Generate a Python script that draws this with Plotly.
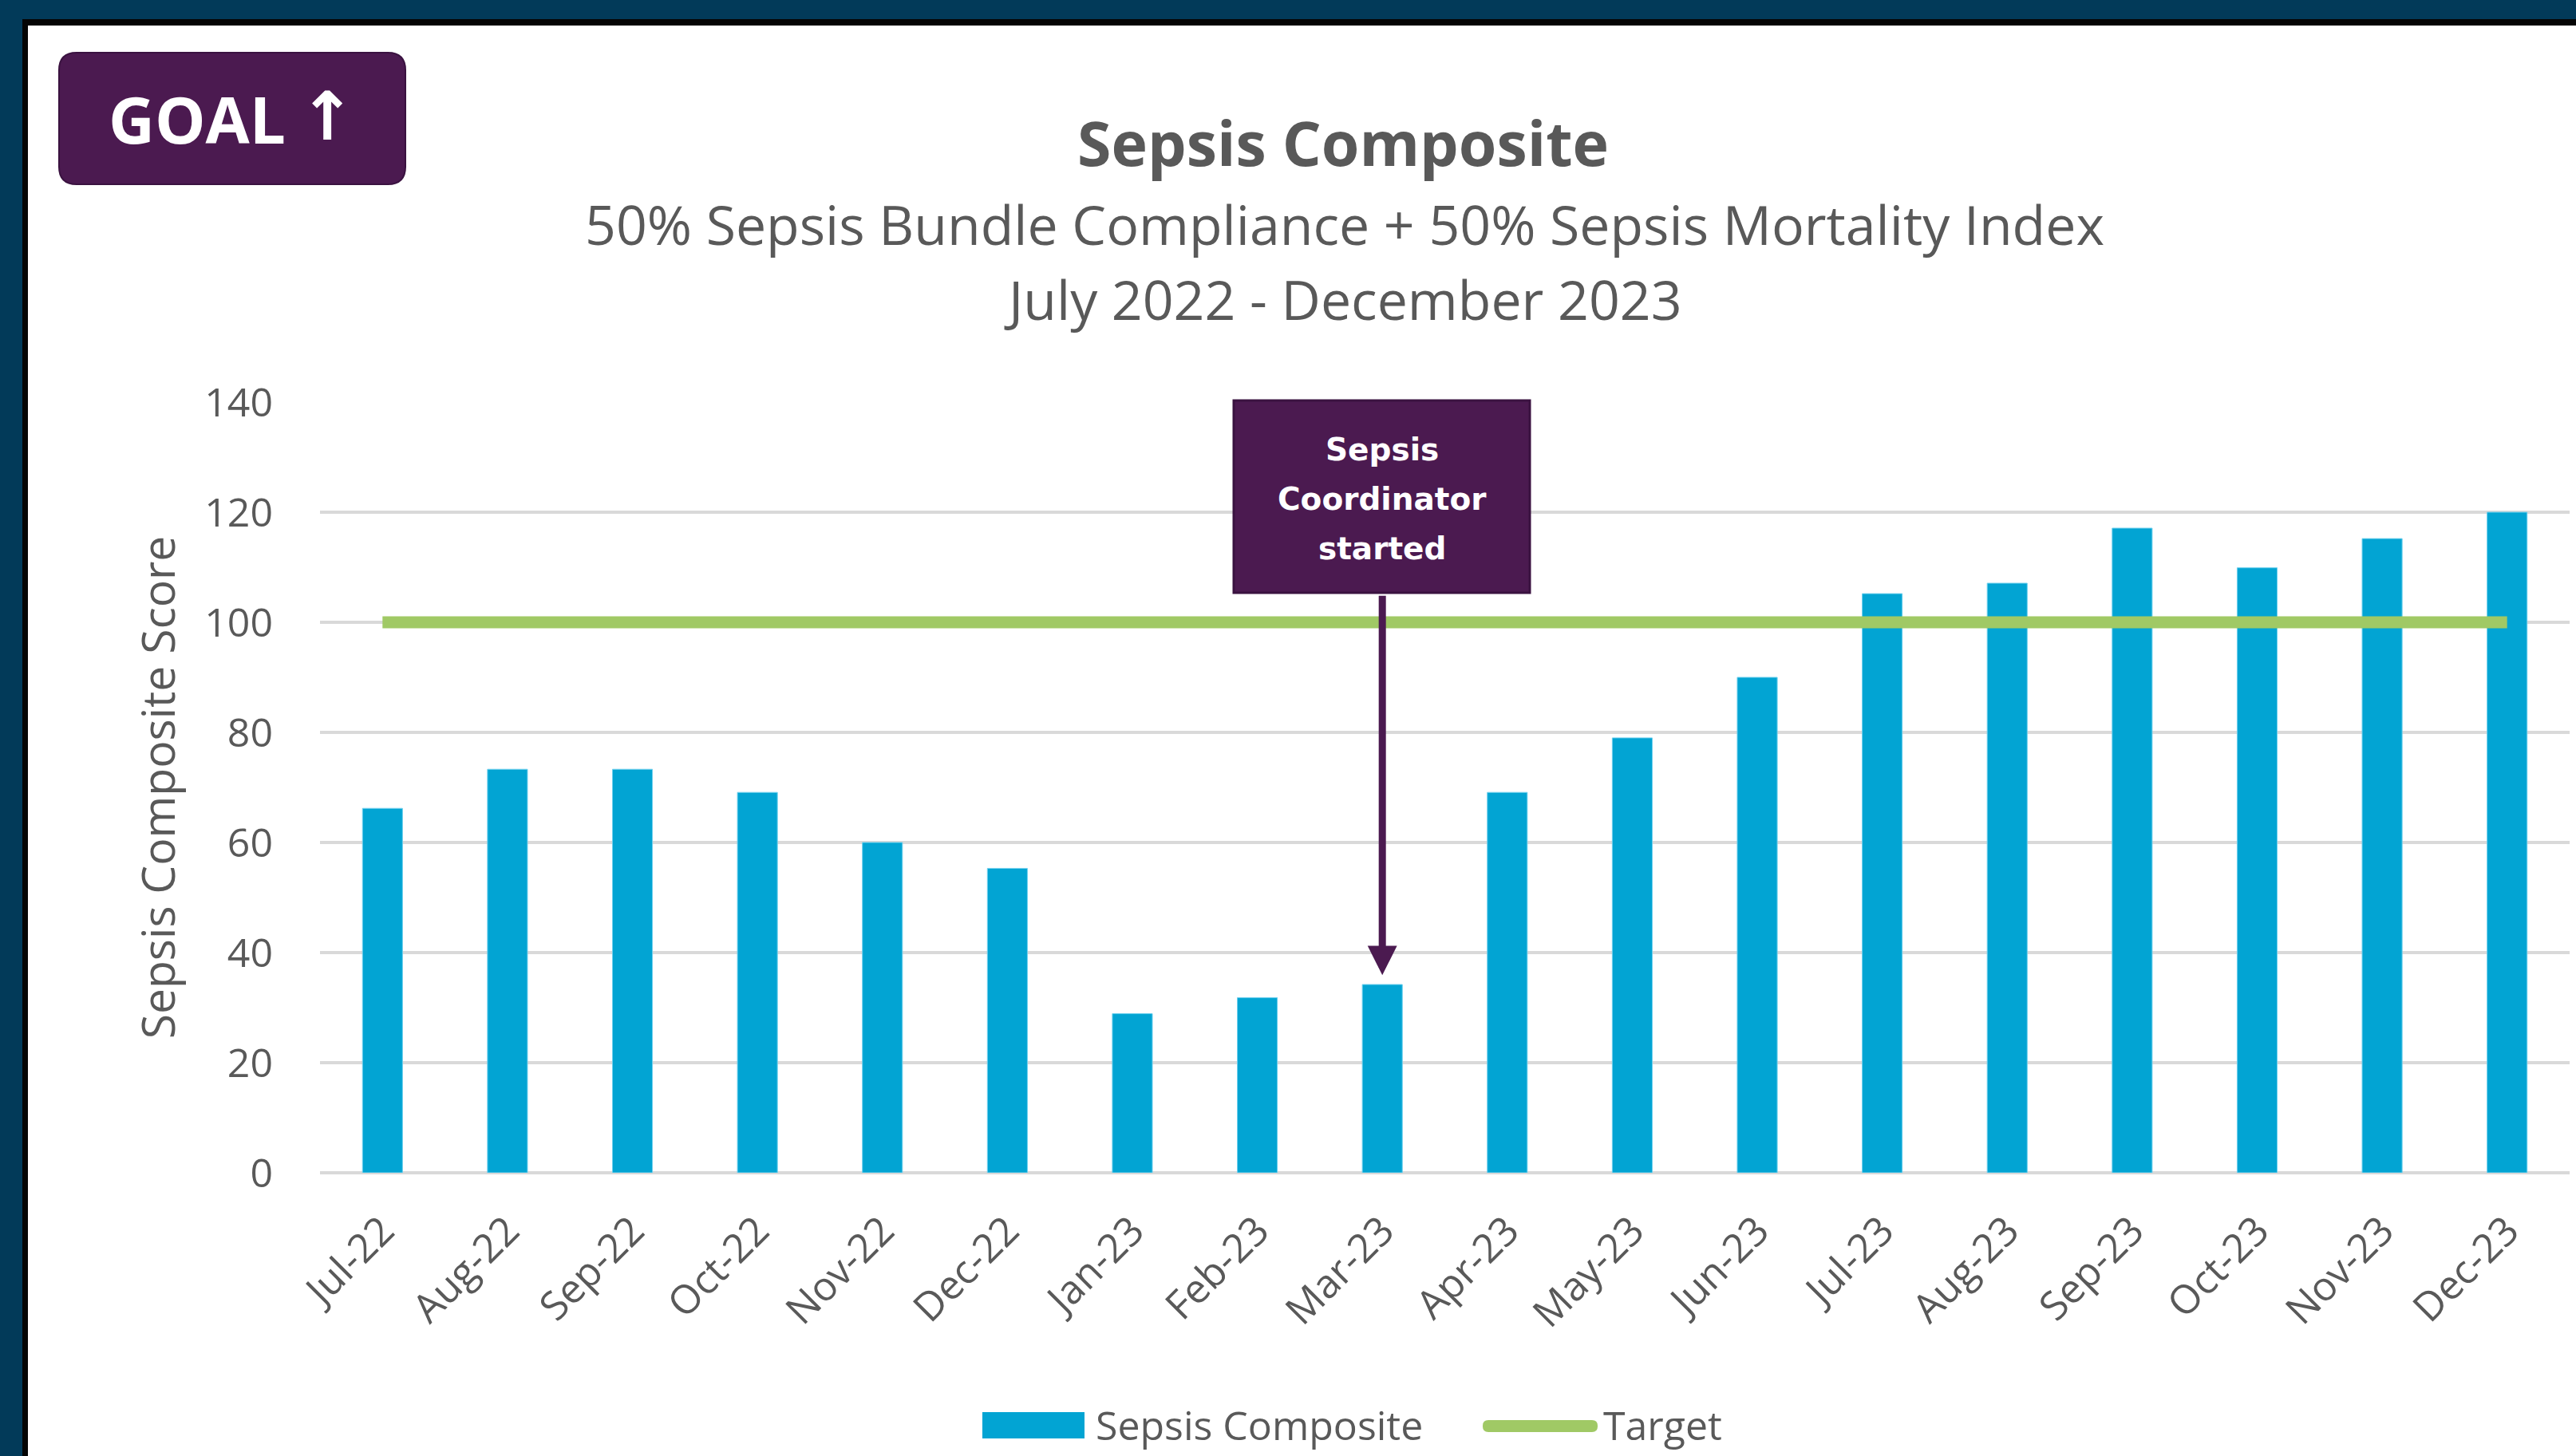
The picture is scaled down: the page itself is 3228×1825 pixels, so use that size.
import plotly.graph_objects as go

# ---------------- data ----------------
months = ["Jul-22", "Aug-22", "Sep-22", "Oct-22", "Nov-22", "Dec-22",
          "Jan-23", "Feb-23", "Mar-23", "Apr-23", "May-23", "Jun-23",
          "Jul-23", "Aug-23", "Sep-23", "Oct-23", "Nov-23", "Dec-23"]
composite = [66.2, 73.3, 73.3, 69.1, 60.0, 55.3,
             28.9, 31.8, 34.2, 69.1, 79.0, 90.0,
             105.2, 107.1, 117.1, 109.9, 115.2, 120.0]
target = [100] * len(months)
y_ticks = [0, 20, 40, 60, 80, 100, 120, 140]
event_month = "Mar-23"

# ---------------- styling ----------------
FIG_W, FIG_H = 3228, 1825
L, R, T, B = 401, 8, 504, 355
PW = FIG_W - L - R
PH = FIG_H - T - B

BLUE_BAR = "#02A4D3"
GREEN = "#A0C965"
PURPLE = "#4B1A50"
GRAY_TXT = "#595959"
GRID = "#D9D9D9"
FRAME_BLUE = "#023A59"
FONT = "Open Sans"


def px(x):
    return (x - L) / PW


def py(y):
    return (FIG_H - B - y) / PH


fig = go.Figure()
fig.add_trace(go.Bar(
    x=months, y=composite, name="Sepsis Composite",
    marker=dict(color=BLUE_BAR, line=dict(color="#6FD0EE", width=1)),
    showlegend=False,
))
fig.add_trace(go.Scatter(
    x=months, y=target, name="Target", mode="lines",
    line=dict(color=GREEN, width=15),
    showlegend=False,
))

shapes = []
# frame
shapes.append(dict(type="rect", xref="paper", yref="paper", layer="above",
                   x0=px(0), x1=px(FIG_W), y0=py(0), y1=py(24),
                   fillcolor=FRAME_BLUE, line=dict(width=0)))
shapes.append(dict(type="rect", xref="paper", yref="paper", layer="above",
                   x0=px(0), x1=px(28), y0=py(0), y1=py(FIG_H),
                   fillcolor=FRAME_BLUE, line=dict(width=0)))
shapes.append(dict(type="rect", xref="paper", yref="paper", layer="above",
                   x0=px(28), x1=px(FIG_W), y0=py(24), y1=py(32),
                   fillcolor="#050505", line=dict(width=0)))
shapes.append(dict(type="rect", xref="paper", yref="paper", layer="above",
                   x0=px(28), x1=px(35), y0=py(24), y1=py(FIG_H),
                   fillcolor="#050505", line=dict(width=0)))


def rounded_path(x0, y0, x1, y1, r):
    pts = [
        ("M", [(x0 + r, y0)]),
        ("L", [(x1 - r, y0)]),
        ("Q", [(x1, y0), (x1, y0 + r)]),
        ("L", [(x1, y1 - r)]),
        ("Q", [(x1, y1), (x1 - r, y1)]),
        ("L", [(x0 + r, y1)]),
        ("Q", [(x0, y1), (x0, y1 - r)]),
        ("L", [(x0, y0 + r)]),
        ("Q", [(x0, y0), (x0 + r, y0)]),
    ]
    s = ""
    for cmd, ps in pts:
        s += cmd + " ".join(f"{px(a):.5f},{py(b):.5f}" for a, b in ps) + " "
    return s + "Z"


# GOAL badge
shapes.append(dict(type="path", xref="paper", yref="paper", layer="above",
                   path=rounded_path(74, 66, 508, 231, 22),
                   fillcolor=PURPLE, line=dict(color="#3A1240", width=2)))

# annotation box
shapes.append(dict(type="rect", xref="paper", yref="paper", layer="above",
                   x0=px(1546), x1=px(1917), y0=py(743), y1=py(502),
                   fillcolor=PURPLE, line=dict(color="#3A1240", width=3)))

# manual legend symbols
shapes.append(dict(type="rect", xref="paper", yref="paper", layer="above",
                   x0=px(1231), x1=px(1359), y0=py(1803), y1=py(1770),
                   fillcolor=BLUE_BAR, line=dict(width=0)))
shapes.append(dict(type="path", xref="paper", yref="paper", layer="above",
                   path=rounded_path(1858, 1780, 2002, 1795, 7),
                   fillcolor=GREEN, line=dict(width=0)))

annotations = []


def text_ann(text, x, y, size, color=GRAY_TXT, family=FONT, xanchor="center"):
    annotations.append(dict(
        text=text, xref="paper", yref="paper", x=px(x), y=py(y),
        xanchor=xanchor, yanchor="middle", showarrow=False,
        font=dict(family=family, size=size, color=color)))


text_ann("<b>Sepsis Composite</b>", 1683, 179, 77)
text_ann("50% Sepsis Bundle Compliance + 50% Sepsis Mortality Index", 1685, 280, 68)
text_ann("July 2022 - December 2023", 1683, 375, 68)
text_ann("<b>GOAL</b>", 134, 148, 80, color="white", xanchor="left")
text_ann("<b>↑</b>", 410, 146, 84, color="white", family="DejaVu Sans")

text_ann("<b>Sepsis</b>", 1732, 563, 39, color="white", family="DejaVu Sans")
text_ann("<b>Coordinator</b>", 1732, 625, 39, color="white", family="DejaVu Sans")
text_ann("<b>started</b>", 1732, 687, 39, color="white", family="DejaVu Sans")

text_ann("Sepsis Composite", 1371, 1786, 50, xanchor="left")
text_ann("Target", 2007, 1786, 50, xanchor="left")

# arrow from the box to the Mar-23 bar
annotations.append(dict(
    x=event_month, y=35.9, xref="x", yref="y",
    ax=0, ay=-(1222 - 745), axref="pixel", ayref="pixel",
    showarrow=True, arrowhead=2, arrowwidth=9, arrowsize=0.82,
    arrowcolor=PURPLE, text=""))

fig.update_layout(
    width=FIG_W, height=FIG_H,
    margin=dict(l=L, r=R, t=T, b=B, pad=0),
    paper_bgcolor="white", plot_bgcolor="white",
    bargap=0.68,
    shapes=shapes, annotations=annotations,
    font=dict(family=FONT, color=GRAY_TXT),
    xaxis=dict(
        type="category", tickangle=-45,
        tickfont=dict(family=FONT, size=50, color=GRAY_TXT),
        ticks="outside", ticklen=22, tickcolor="rgba(0,0,0,0)",
        showgrid=False, showline=False, zeroline=False,
    ),
    yaxis=dict(
        range=[0, 140], tickvals=y_ticks,
        tickfont=dict(family=FONT, size=50, color=GRAY_TXT),
        ticks="outside", ticklen=48, tickcolor="rgba(0,0,0,0)",
        showgrid=True, gridcolor=GRID, gridwidth=4,
        zeroline=True, zerolinecolor=GRID, zerolinewidth=4,
        showline=False,
        title=dict(text="Sepsis Composite Score",
                   font=dict(family=FONT, size=57, color=GRAY_TXT),
                   standoff=18),
    ),
)

fig.write_html(
    "out.html",
    config={"displayModeBar": False},
    post_script="document.body.style.margin='0';document.body.style.overflow='hidden';",
)
